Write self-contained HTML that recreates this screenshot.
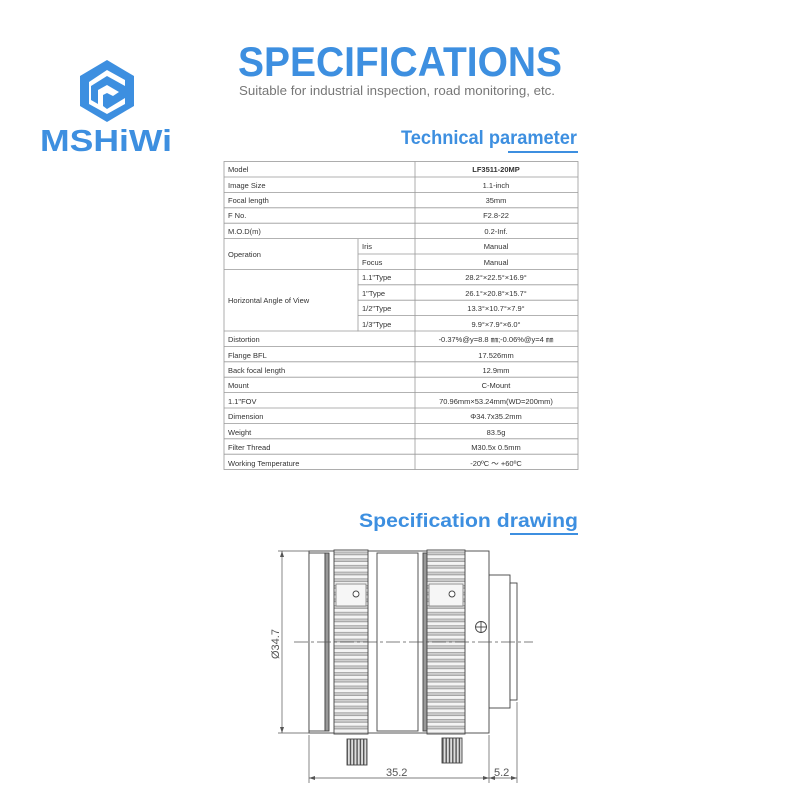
<!DOCTYPE html>
<html><head><meta charset="utf-8"><style>
html,body{margin:0;padding:0;background:#fff;}
svg{display:block;font-family:"Liberation Sans",Arial,sans-serif;}
</style></head><body>
<svg width="800" height="800" viewBox="0 0 800 800" xmlns="http://www.w3.org/2000/svg">
<defs>
<pattern id="rib" x="0" y="551" width="10" height="6.7" patternUnits="userSpaceOnUse">
<rect x="0" y="0" width="10" height="6.7" fill="#f4f4f4"/>
<rect x="0" y="0.6" width="10" height="3.6" fill="#9a9a9a"/>
<rect x="0" y="1.4" width="10" height="1.8" fill="#cfcfcf"/>
</pattern>
<pattern id="pin" x="0" y="0" width="3.3" height="10" patternUnits="userSpaceOnUse">
<rect width="3.3" height="10" fill="#ddd"/><rect width="1.4" height="10" fill="#555"/>
</pattern>
</defs>
<rect width="800" height="800" fill="#fff"/>
<!-- logo -->
<g fill="#3d8fe0">
<polygon points="107,60 134,76 134,106 107,122 80,106 80,76"/>
</g>
<g fill="#fff">
<polygon points="107,70 125,80 125,86 107,76 91,86 91,100 98,104 98,90 107,85 119,92 113,96 107,93 103,95 103,106 107,109 125,98 125,104 107,114 89,104 89,82"/>
</g>
<text x="40" y="151" font-size="31" font-weight="bold" fill="#3d8fe0" textLength="132" lengthAdjust="spacingAndGlyphs">MSHiWi</text>
<!-- title -->
<text x="238" y="76" font-size="42" font-weight="bold" fill="#3d8fe0" textLength="324" lengthAdjust="spacingAndGlyphs">SPECIFICATIONS</text>
<text x="239" y="95" font-size="13" fill="#777" textLength="316" lengthAdjust="spacingAndGlyphs">Suitable for industrial inspection, road monitoring, etc.</text>
<text x="401" y="144" font-size="19" font-weight="bold" fill="#3d8fe0" textLength="176" lengthAdjust="spacingAndGlyphs">Technical parameter</text>
<rect x="508" y="151" width="70" height="2" fill="#3d8fe0"/>
<!-- table -->
<g stroke="#999" stroke-width="0.8" fill="none">
<rect x="224" y="161.5" width="354" height="308"/>
<line x1="415" y1="161.5" x2="415" y2="469.5"/>
<line x1="358" y1="238.5" x2="358" y2="331.5"/>
<line x1="224" y1="177" x2="578" y2="177"/>
<line x1="224" y1="192.4" x2="578" y2="192.4"/>
<line x1="224" y1="207.8" x2="578" y2="207.8"/>
<line x1="224" y1="223.2" x2="578" y2="223.2"/>
<line x1="224" y1="238.6" x2="578" y2="238.6"/>
<line x1="358" y1="254" x2="578" y2="254"/>
<line x1="224" y1="269.4" x2="578" y2="269.4"/>
<line x1="358" y1="284.8" x2="578" y2="284.8"/>
<line x1="358" y1="300.2" x2="578" y2="300.2"/>
<line x1="358" y1="315.6" x2="578" y2="315.6"/>
<line x1="224" y1="331" x2="578" y2="331"/>
<line x1="224" y1="346.4" x2="578" y2="346.4"/>
<line x1="224" y1="361.8" x2="578" y2="361.8"/>
<line x1="224" y1="377.2" x2="578" y2="377.2"/>
<line x1="224" y1="392.6" x2="578" y2="392.6"/>
<line x1="224" y1="408" x2="578" y2="408"/>
<line x1="224" y1="423.4" x2="578" y2="423.4"/>
<line x1="224" y1="438.8" x2="578" y2="438.8"/>
<line x1="224" y1="454.2" x2="578" y2="454.2"/>
</g>
<g font-size="7.5" fill="#333">
<text x="228" y="172">Model</text>
<text x="228" y="188">Image Size</text>
<text x="228" y="203">Focal length</text>
<text x="228" y="218">F No.</text>
<text x="228" y="234">M.O.D(m)</text>
<text x="228" y="257">Operation</text>
<text x="228" y="303">Horizontal Angle of View</text>
<text x="228" y="342">Distortion</text>
<text x="228" y="358">Flange BFL</text>
<text x="228" y="373">Back focal length</text>
<text x="228" y="388">Mount</text>
<text x="228" y="404">1.1"FOV</text>
<text x="228" y="419">Dimension</text>
<text x="228" y="435">Weight</text>
<text x="228" y="450">Filter Thread</text>
<text x="228" y="466">Working Temperature</text>
<text x="362" y="249">Iris</text>
<text x="362" y="265">Focus</text>
<text x="362" y="280">1.1"Type</text>
<text x="362" y="296">1"Type</text>
<text x="362" y="311">1/2"Type</text>
<text x="362" y="327">1/3"Type</text>
</g>
<g font-size="7.5" fill="#333" text-anchor="middle">
<text x="496" y="172" font-weight="bold">LF3511-20MP</text>
<text x="496" y="188">1.1-inch</text>
<text x="496" y="203">35mm</text>
<text x="496" y="218">F2.8-22</text>
<text x="496" y="234">0.2-Inf.</text>
<text x="496" y="249">Manual</text>
<text x="496" y="265">Manual</text>
<text x="496" y="280">28.2°×22.5°×16.9°</text>
<text x="496" y="296">26.1°×20.8°×15.7°</text>
<text x="496" y="311">13.3°×10.7°×7.9°</text>
<text x="496" y="327">9.9°×7.9°×6.0°</text>
<text x="496" y="342">-0.37%@y=8.8 ㎜;-0.06%@y=4 ㎜</text>
<text x="496" y="358">17.526mm</text>
<text x="496" y="373">12.9mm</text>
<text x="496" y="388">C-Mount</text>
<text x="496" y="404">70.96mm×53.24mm(WD=200mm)</text>
<text x="496" y="419">Φ34.7x35.2mm</text>
<text x="496" y="435">83.5g</text>
<text x="496" y="450">M30.5x 0.5mm</text>
<text x="496" y="466">-20ºC ～ +60ºC</text>
</g>
<!-- drawing heading -->
<text x="359" y="527" font-size="19" font-weight="bold" fill="#3d8fe0" textLength="219" lengthAdjust="spacingAndGlyphs">Specification drawing</text>
<rect x="510" y="533" width="68" height="2" fill="#3d8fe0"/>
<!-- lens drawing -->
<g stroke="#444" stroke-width="0.9" fill="#fff">
<rect x="489" y="575" width="21" height="133"/>
<rect x="510" y="583" width="7" height="117"/>
<rect x="309" y="551" width="180" height="182"/>
<rect x="309" y="553" width="16" height="178" fill="#fff"/>
<rect x="325" y="553" width="4" height="178" fill="#999"/>
<rect x="334" y="550" width="34" height="184" fill="url(#rib)"/>
<rect x="377" y="553" width="41" height="178"/>
<rect x="423" y="553" width="4" height="178" fill="#999"/>
<rect x="427" y="550" width="38" height="184" fill="url(#rib)"/>
<rect x="336" y="584" width="30" height="22" fill="#f6f6f6" stroke="#888"/>
<rect x="429" y="584" width="34" height="22" fill="#f6f6f6" stroke="#888"/>
<circle cx="356" cy="594" r="3"/>
<circle cx="452" cy="594" r="3"/>
<circle cx="481" cy="627" r="5.5"/>
<line x1="476" y1="627" x2="486" y2="627"/>
<line x1="481" y1="622" x2="481" y2="632"/>
<rect x="347" y="739" width="20" height="26" fill="url(#pin)"/>
<rect x="442" y="738" width="20" height="25" fill="url(#pin)"/>
</g>
<line x1="294" y1="642" x2="533" y2="642" stroke="#555" stroke-width="0.7" stroke-dasharray="14,3,3,3"/>
<g stroke="#555" stroke-width="0.7" fill="none">
<line x1="282" y1="551" x2="282" y2="733"/>
<line x1="278" y1="551" x2="309" y2="551"/>
<line x1="278" y1="733" x2="309" y2="733"/>
<line x1="309" y1="735" x2="309" y2="783"/>
<line x1="489" y1="735" x2="489" y2="783"/>
<line x1="517" y1="702" x2="517" y2="783"/>
<line x1="309" y1="778" x2="517" y2="778"/>
</g>
<g fill="#555">
<polygon points="282,551 280,557 284,557"/>
<polygon points="282,733 280,727 284,727"/>
<polygon points="309,778 315,776 315,780"/>
<polygon points="489,778 483,776 483,780"/>
<polygon points="489,778 495,776 495,780"/>
<polygon points="517,778 511,776 511,780"/>
</g>
<text transform="translate(279,659) rotate(-90)" font-size="11" fill="#555">Ø34.7</text>
<text x="386" y="776" font-size="11" fill="#555">35.2</text>
<text x="494" y="776" font-size="11" fill="#555">5.2</text>
</svg>
</body></html>
